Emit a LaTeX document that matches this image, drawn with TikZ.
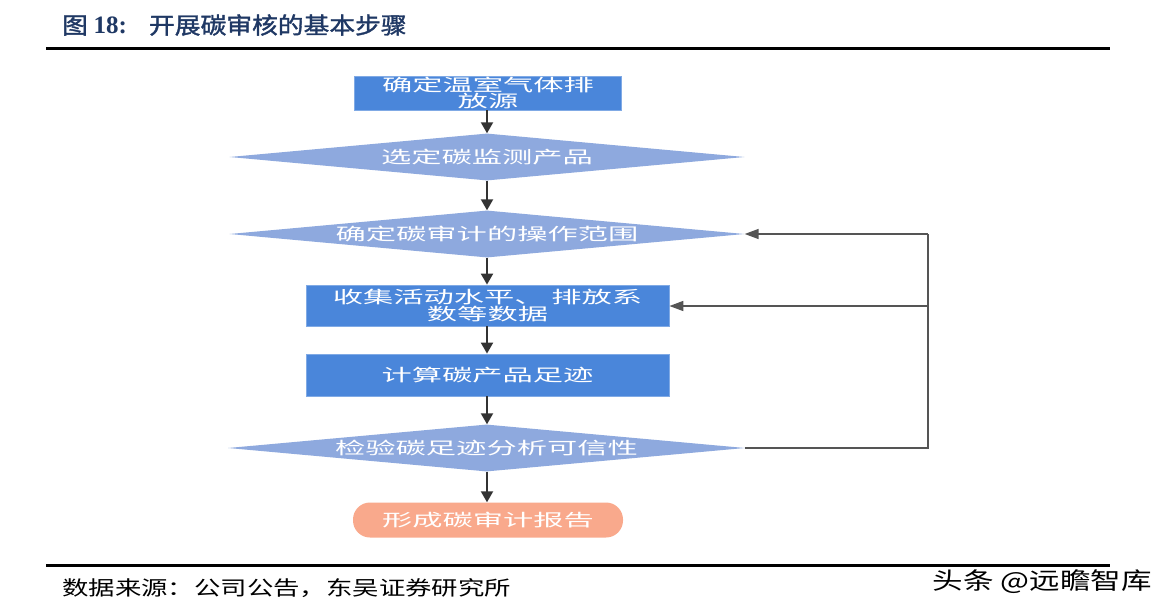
\documentclass[tikz,border=0pt]{standalone}
\usepackage{fontspec}
\usetikzlibrary{shapes.geometric,arrows.meta}
\newfontfamily\cjk[FakeStretch=1.78]{Noto Sans CJK SC}
\newfontfamily\cjkt[FakeStretch=1.12,FakeBold=1.5]{Noto Sans CJK SC}
\newfontfamily\cjks[FakeStretch=1.32]{Noto Sans CJK SC}
\newfontfamily\cjkw[FakeStretch=1.3]{Noto Sans CJK SC}
\newfontfamily\serifb{Liberation Serif}
\definecolor{boxblue}{HTML}{4A86DA}
\definecolor{diablue}{HTML}{8EA9DE}
\definecolor{salmon}{HTML}{F9A98C}
\definecolor{navy}{HTML}{1F3864}
\definecolor{arrowc}{HTML}{333333}
\definecolor{fbc}{HTML}{555555}
\tikzset{
  stepbox/.style={rectangle,fill=boxblue,draw=boxblue!70!white,line width=0.8pt,minimum width=363pt,minimum height=41pt,inner sep=0pt,text=white,align=center,font=\cjk\fontsize{17}{19}\selectfont},
  decide/.style={diamond,fill=diablue,draw=none,aspect=11,minimum width=515pt,minimum height=47pt,inner sep=0pt,text=white,font=\cjk\fontsize{17}{19}\selectfont},
  endbox/.style={rectangle,rounded corners=17pt,fill=salmon,minimum width=270pt,minimum height=35pt,inner sep=0pt,text=white,font=\cjk\fontsize{17}{19}\selectfont},
  flow/.style={draw=arrowc,line width=2pt,-{Triangle[length=11pt,width=12pt]}},
  back/.style={draw=fbc,line width=1.6pt,-{Triangle[length=14pt,width=10pt]}},
  rule/.style={line width=3pt,black}
}
\begin{document}
\begin{tikzpicture}[x=1pt,y=-1pt]
\useasboundingbox (0,0) rectangle (1171,614);
\fill[white] (0,0) rectangle (1171,614);
% title
\node[anchor=west,inner sep=0pt,text=navy] (title) at (62,25) {\cjkt\fontsize{23}{25}\selectfont 图 {\serifb\bfseries\fontsize{25}{25}\selectfont 18:}\hspace{22pt}开展碳审核的基本步骤};
\coordinate (r1a) at (46,48.5);
\coordinate (r1b) at (1110,48.5);
\draw[rule] (r1a) -- (r1b);
% nodes
\node[stepbox,minimum width=267pt,minimum height=34pt] (n1) at (488,93) {确定温室气体排\\[-3pt]放源};
\node[decide] (n2) at (487,157) {选定碳监测产品};
\node[decide] (n3) at (487,234) {确定碳审计的操作范围};
\node[stepbox] (n4) at (487.5,305.5) {收集活动水平、 排放系\\[-2pt]数等数据};
\node[stepbox,minimum height=42pt] (n5) at (487.5,375) {计算碳产品足迹};
\node[decide,minimum width=517pt] (n6) at (486.5,448) {检验碳足迹分析可信性};
\node[endbox] (n7) at (488,520) {形成碳审计报告};
% flow arrows
\draw[flow] (n1.south -| 487,0) -- (n2.north -| 487,0);
\draw[flow] (n2.south -| 487,0) -- (n3.north -| 487,0);
\draw[flow] (n3.south -| 487,0) -- (n4.north -| 487,0);
\draw[flow] (n4.south -| 487,0) -- (n5.north -| 487,0);
\draw[flow] (n5.south -| 487,0) -- (n6.north -| 487,0);
\draw[flow] (n6.south -| 487,0) -- (n7.north -| 487,0);
% feedback
\coordinate (fb1) at (928,448);
\coordinate (fb2) at (928,234);
\coordinate (fb3) at (928,306);
\draw[draw=fbc,line width=1.6pt] (n6.east) -- (fb1) -- (fb2);
\draw[back] (fb2) -- (n3.east);
\draw[back] (fb3) -- (n4.east |- fb3);
% bottom
\coordinate (r2a) at (46,565);
\coordinate (r2b) at (1110,565);
\draw[rule] (r2a) -- (r2b);
\node[anchor=west,inner sep=0pt] (src) at (62,588) {\cjks\fontsize{20}{22}\selectfont 数据来源：公司公告，东吴证券研究所};
\node[anchor=east,inner sep=1pt,fill=white] (wm) at (1153,582) {\cjkw\fontsize{23.5}{26}\selectfont 头条 @远瞻智库};
\end{tikzpicture}
\end{document}
